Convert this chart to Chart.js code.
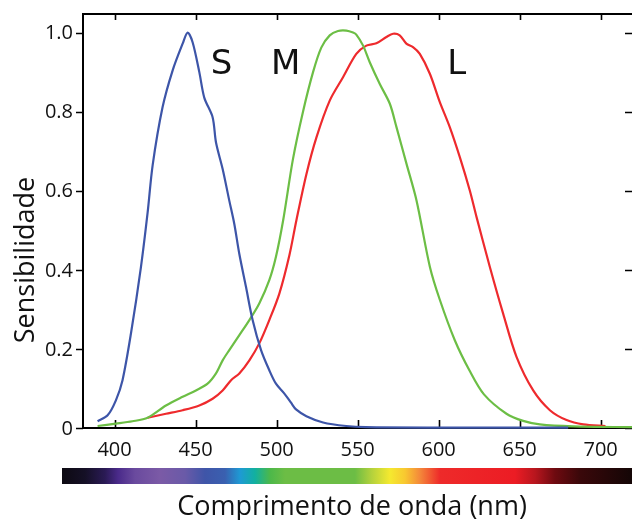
<!DOCTYPE html>
<html>
<head>
<meta charset="utf-8">
<script src="https://cdn.jsdelivr.net/npm/chart.js@4.4.1/dist/chart.umd.min.js"></script>
<style>
html,body{margin:0;padding:0;background:#fff;overflow:hidden;}
#wrap{position:relative;width:640px;height:520px;}
</style>
</head>
<body>
<div id="wrap"><canvas id="c"></canvas></div>
<script>
// ---- data ----
const sWl  = [389.5, 395.7, 400.8, 404.9, 410.1, 416.2, 420.4, 423.5, 429.6, 435.8, 442, 445.1, 448.2, 452.3, 455.4, 460.5, 462.6, 466.7, 470.8, 473.9, 477, 481.1, 485.2, 490.4, 495.5, 499.6, 504.8, 508.9, 512, 518.4, 528.7, 543, 555, 600, 680];
const sVal = [0.017, 0.032, 0.07, 0.121, 0.239, 0.405, 0.545, 0.665, 0.811, 0.904, 0.972, 1.0, 0.975, 0.9, 0.835, 0.786, 0.722, 0.655, 0.575, 0.516, 0.44, 0.357, 0.273, 0.197, 0.146, 0.112, 0.087, 0.064, 0.047, 0.03, 0.014, 0.005, 0.002, 0.001, 0.001];

const mWl  = [389.5, 400.8, 411, 420.4, 431.7, 442, 450.2, 457.4, 462.6, 466.7, 470.8, 477, 483.2, 489.3, 495.5, 499.6, 504, 510.1, 516.3, 522.5, 527.6, 532.8, 537.9, 543.1, 547.2, 549.2, 553.4, 557.5, 563.7, 569.9, 574, 580.2, 586.4, 594.6, 600.7, 610, 619, 628, 641.9, 652.2, 662.5, 683, 720];
const mVal = [0.005, 0.011, 0.017, 0.026, 0.057, 0.079, 0.095, 0.112, 0.138, 0.171, 0.197, 0.235, 0.273, 0.315, 0.374, 0.433, 0.524, 0.68, 0.8, 0.9, 0.962, 0.993, 1.004, 1.005, 1.0, 0.995, 0.967, 0.925, 0.87, 0.82, 0.761, 0.668, 0.575, 0.408, 0.325, 0.222, 0.146, 0.085, 0.036, 0.018, 0.009, 0.004, 0.002];

const lWl  = [420.4, 431.7, 442, 452.3, 460.5, 466.7, 471.9, 477, 483.2, 489.3, 495.5, 501.7, 507.9, 512.2, 518.4, 524.6, 532.8, 541, 549.2, 555.4, 561.6, 567.8, 571.9, 576, 580.1, 584.2, 588.4, 594.6, 600.7, 606.9, 613.1, 619.3, 623.4, 631.6, 639.8, 648.1, 658.4, 668.7, 679, 689.3, 703];
const lVal = [0.026, 0.036, 0.045, 0.057, 0.074, 0.095, 0.121, 0.138, 0.171, 0.214, 0.273, 0.34, 0.437, 0.525, 0.642, 0.735, 0.828, 0.887, 0.946, 0.967, 0.973, 0.989, 0.997, 0.993, 0.972, 0.963, 0.946, 0.896, 0.825, 0.761, 0.685, 0.6, 0.534, 0.408, 0.29, 0.18, 0.095, 0.045, 0.02, 0.009, 0.005];

const seriesNames = ['S', 'M', 'L'];
const labelWl = [466, 505.6, 611.2];
const labelY = 0.918;

const xTicks = [400, 450, 500, 550, 600, 650, 700];
const yTicks = [0, 0.2, 0.4, 0.6, 0.8, 1.0];
const yTickLabels = ['0', '0.2', '0.4', '0.6', '0.8', '1.0'];
const xTitle = 'Comprimento de onda (nm)';
const yTitle = 'Sensibilidade';

const pts = (xs, ys) => xs.map((x, i) => ({x: x, y: ys[i]}));

const spectrumStops = [
  [62,'#0d0a12'],[85,'#151026'],[105,'#2a1a55'],[118,'#4a2a8a'],[135,'#6a4a9e'],[160,'#7b5aa6'],
  [185,'#6a5aa8'],[205,'#3f55a8'],[225,'#3a60b0'],[240,'#1e9ad4'],[255,'#12b0a0'],[270,'#4cb84a'],
  [285,'#6cbd45'],[355,'#6cbd45'],[372,'#b5d23c'],[390,'#f5e92f'],[405,'#f8c830'],[420,'#f4883a'],
  [440,'#ee2a2a'],[515,'#ec1c24'],[535,'#b8161e'],[555,'#6e0a10'],[580,'#3a080a'],[632,'#140606']
];

const decor = {
  id: 'decor',
  beforeDatasetsDraw(chart) {
    const ctx = chart.ctx, a = chart.chartArea;
    const xs = chart.scales.x, ys = chart.scales.y;
    ctx.save();
    ctx.strokeStyle = '#000';
    ctx.lineWidth = 2;
    ctx.beginPath();
    ctx.moveTo(a.left, a.bottom); ctx.lineTo(a.left, a.top); ctx.lineTo(a.right + 5, a.top);
    ctx.moveTo(a.left - 1, a.bottom); ctx.lineTo(a.right + 5, a.bottom);
    ctx.stroke();
    ctx.lineWidth = 1.6;
    ctx.beginPath();
    xTicks.forEach(v => {
      const px = Math.round(xs.getPixelForValue(v)) + 0.5;
      ctx.moveTo(px, a.top); ctx.lineTo(px, a.top + 6);
      ctx.moveTo(px, a.bottom); ctx.lineTo(px, a.bottom - 8);
    });
    yTicks.forEach(v => {
      const py = Math.round(ys.getPixelForValue(v)) + 0.5;
      ctx.moveTo(a.left - 7, py); ctx.lineTo(a.left, py);
      ctx.moveTo(a.right - 8, py); ctx.lineTo(a.right + 2, py);
    });
    ctx.stroke();

    // tick labels
    ctx.fillStyle = '#111';
    ctx.font = '20px "Open Sans"';
    ctx.textAlign = 'center'; ctx.textBaseline = 'middle';
    xTicks.forEach(v => ctx.fillText(String(v), xs.getPixelForValue(v), 450));
    ctx.textAlign = 'right';
    yTicks.forEach((v, i) => ctx.fillText(yTickLabels[i], 73, ys.getPixelForValue(v) + 1));

    // titles
    ctx.font = '27px "Open Sans"';
    ctx.textAlign = 'center'; ctx.textBaseline = 'alphabetic';
    ctx.fillText(xTitle, 352, 515);
    ctx.save();
    ctx.translate(34, 260);
    ctx.rotate(-Math.PI / 2);
    ctx.fillText(yTitle, 0, 0);
    ctx.restore();

    // cone labels
    ctx.font = '34px "DejaVu Sans"';
    ctx.textAlign = 'center'; ctx.textBaseline = 'middle';
    seriesNames.forEach((n, i) => ctx.fillText(n, xs.getPixelForValue(labelWl[i]), ys.getPixelForValue(labelY)));

    // spectrum bar
    const x0 = 62, x1 = 640;
    const g = ctx.createLinearGradient(x0, 0, 632, 0);
    spectrumStops.forEach(s => g.addColorStop((s[0] - x0) / (632 - x0), s[1]));
    ctx.fillStyle = g;
    ctx.fillRect(x0, 468, x1 - x0, 16);
    ctx.restore();
  }
};

new Chart(document.getElementById('c'), {
  type: 'line',
  data: {
    datasets: [
      {label: 'S', data: pts(sWl, sVal), borderColor: '#3d55a8'},
      {label: 'M', data: pts(mWl, mVal), borderColor: '#6cbe45'},
      {label: 'L', data: pts(lWl, lVal), borderColor: '#ee2a2d'}
    ].map(d => Object.assign(d, {borderWidth: 2.2, pointRadius: 0, tension: 0.3, fill: false, clip: 6}))
  },
  options: {
    responsive: true,
    maintainAspectRatio: false,
    devicePixelRatio: 1,
    animation: false,
    layout: {padding: {left: 83, top: 14, right: 7, bottom: 92}},
    plugins: {legend: {display: false}, tooltip: {enabled: false}},
    scales: {
      x: {type: 'linear', min: 380.5, max: 720, display: false},
      y: {type: 'linear', min: 0, max: 1.047, display: false}
    }
  },
  plugins: [decor]
});
</script>
</body>
</html>
